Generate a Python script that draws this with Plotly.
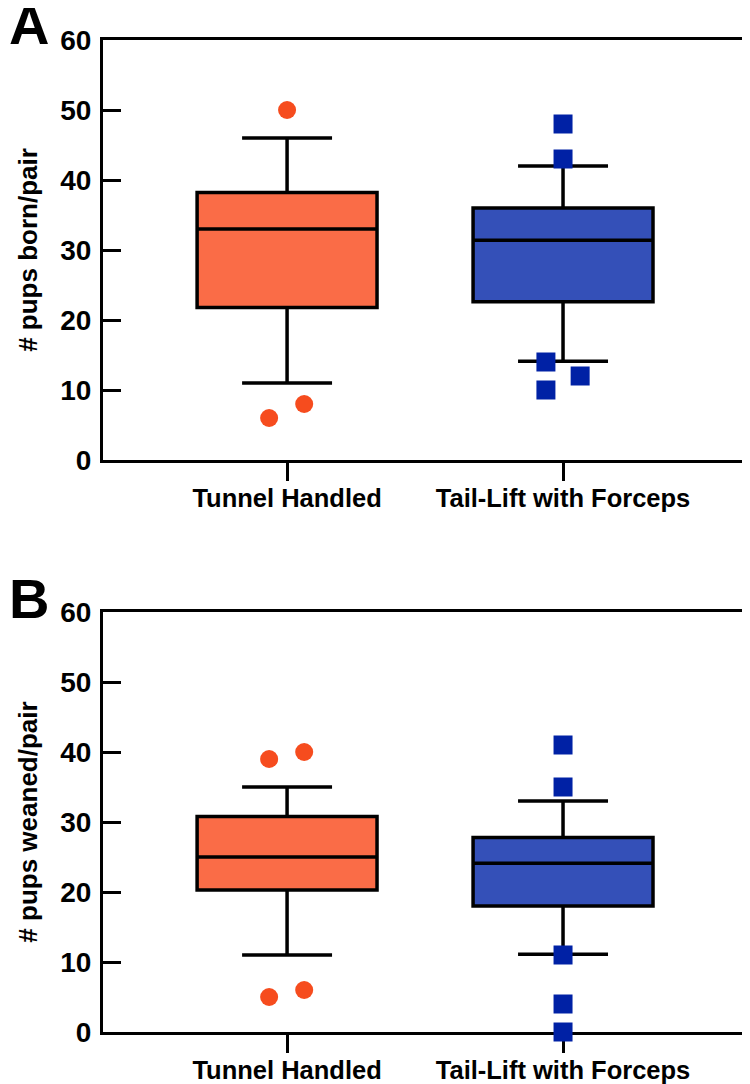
import plotly.graph_objects as go

# ---------------- data ----------------
groups = ["Tunnel Handled", "Tail-Lift with Forceps"]
group_pos = [0, 1]

# Panel A: # pups born/pair  (box stats per group)
born_q1 = [21.8, 22.6]
born_median = [33.0, 31.4]
born_q3 = [38.2, 36.0]
born_low = [11.0, 14.1]
born_high = [46.0, 42.0]
born_out_tunnel = [50, 6, 8]
born_out_tunnel_jit = [0.0, -0.065, 0.062]
born_out_tail = [48, 43, 14, 12, 10]
born_out_tail_jit = [0.0, 0.0, -0.062, 0.062, -0.062]

# Panel B: # pups weaned/pair
wean_q1 = [20.3, 18.0]
wean_median = [25.0, 24.1]
wean_q3 = [30.8, 27.8]
wean_low = [11.0, 11.1]
wean_high = [35.0, 33.0]
wean_out_tunnel = [39, 40, 5, 6]
wean_out_tunnel_jit = [-0.065, 0.062, -0.065, 0.062]
wean_out_tail = [41, 35, 11, 4, 0]
wean_out_tail_jit = [0.0, 0.0, 0.0, 0.0, 0.0]

y_ticks = [0, 10, 20, 30, 40, 50, 60]

box_fill = ["#FA6C47", "#3450B8"]
mark_col = ["#F64C1E", "#0021A5"]
mark_sym = ["circle", "square"]

FONT = "Liberation Sans, Arial, sans-serif"

fig = go.Figure()

panels = [
    ("y", born_q1, born_median, born_q3, born_low, born_high,
     [(born_out_tunnel, born_out_tunnel_jit), (born_out_tail, born_out_tail_jit)]),
    ("y2", wean_q1, wean_median, wean_q3, wean_low, wean_high,
     [(wean_out_tunnel, wean_out_tunnel_jit), (wean_out_tail, wean_out_tail_jit)]),
]

for yref, q1, med, q3, lo, hi, outs in panels:
    xref = "x" if yref == "y" else "x2"
    for i in range(2):
        fig.add_trace(go.Box(
            x=[group_pos[i]], q1=[q1[i]], median=[med[i]], q3=[q3[i]],
            lowerfence=[lo[i]], upperfence=[hi[i]],
            width=0.652, whiskerwidth=0.5,
            fillcolor=box_fill[i], line=dict(color="black", width=3.5),
            boxpoints=False, showlegend=False, hoverinfo="skip",
            xaxis=xref, yaxis=yref,
        ))
    for i in range(2):
        vals, jit = outs[i]
        fig.add_trace(go.Scatter(
            x=[group_pos[i] + j for j in jit], y=vals, mode="markers",
            marker=dict(symbol=mark_sym[i], color=mark_col[i],
                        size=18 if i == 0 else 19, line=dict(width=0)),
            cliponaxis=False, showlegend=False,
            xaxis=xref, yaxis=yref,
        ))

# the page body adds an 8px offset; compensate
OFF = 8
W, H = 750 - OFF, 1084 - OFF
H_TOP = 40 - OFF
H_BOT = 1032 - OFF
tot = H_BOT - H_TOP  # plot area height in px
L = 103 - OFF
R = W - (746 - OFF)
PW = W - L - R


def frac(p):
    return (H_BOT - (p - OFF)) / tot


xcommon = dict(
    range=[-0.667, 1.663], tickmode="array", tickvals=group_pos, ticktext=groups,
    ticks="outside", ticklen=18, tickwidth=3, tickcolor="black",
    showline=True, linewidth=3, linecolor="black", mirror=True,
    showgrid=False, zeroline=False, layer="below traces",
    tickfont=dict(family=FONT, size=25.5, color="black", weight="bold"),
    ticklabelstandoff=-5,
)
ycommon = dict(
    range=[0, 60], tickmode="array", tickvals=y_ticks,
    ticks="inside", ticklen=18, tickwidth=3, tickcolor="black",
    showline=True, linewidth=3, linecolor="black", mirror=True,
    showgrid=False, zeroline=False, layer="below traces",
    tickfont=dict(family=FONT, size=28, color="black", weight="bold"),
    ticklabelstandoff=3,
    title_font=dict(family=FONT, size=26, color="black", weight="bold"),
    title_standoff=16,
)

fig.update_layout(
    width=W, height=H,
    margin=dict(l=L, r=R, t=H_TOP, b=H - H_BOT, autoexpand=False),
    paper_bgcolor="white", plot_bgcolor="white",
    showlegend=False,
    xaxis=dict(domain=[0, 1], anchor="y", **xcommon),
    yaxis=dict(domain=[frac(460), 1.0], anchor="x", title_text="# pups born/pair", **ycommon),
    xaxis2=dict(domain=[0, 1], anchor="y2", **xcommon),
    yaxis2=dict(domain=[0, frac(612)], anchor="x2", title_text="# pups weaned/pair", **ycommon),
    annotations=[
        dict(text="<b>A</b>", xref="paper", yref="paper", x=-(L + 1) / PW, y=frac(24),
             xanchor="left", yanchor="middle", showarrow=False,
             font=dict(family=FONT, size=56, color="black")),
        dict(text="<b>B</b>", xref="paper", yref="paper", x=-(L + 1) / PW, y=frac(598),
             xanchor="left", yanchor="middle", showarrow=False,
             font=dict(family=FONT, size=56, color="black")),
    ],
)

fig.write_html("out.html")
